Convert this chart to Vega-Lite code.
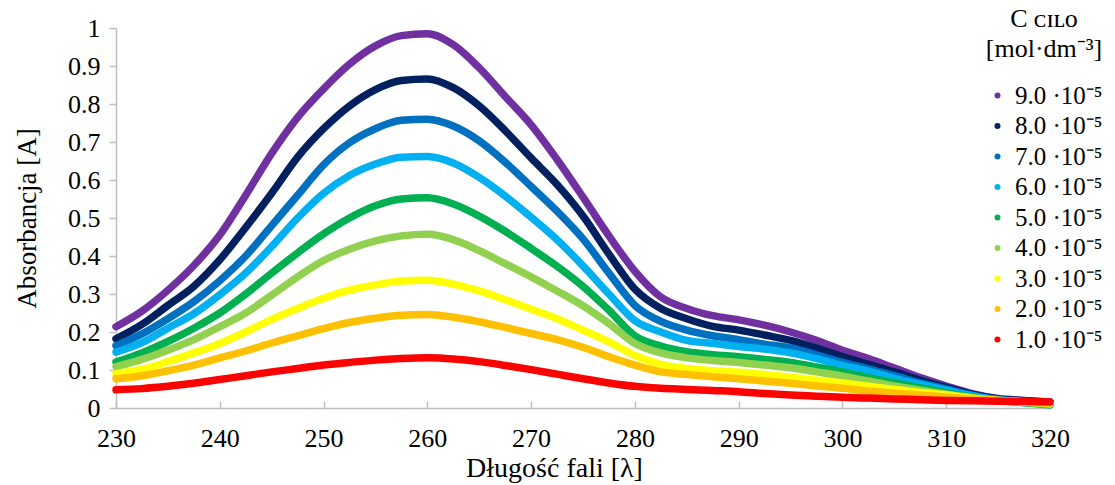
{
  "$schema": "https://vega.github.io/schema/vega-lite/v6.json",
  "width": 934,
  "height": 380,
  "autosize": {"type": "none"},
  "padding": {"left": 116, "top": 28, "right": 65, "bottom": 77},
  "background": "white",
  "config": {
    "view": {"stroke": null},
    "font": "Liberation Serif",
    "axis": {"labelFont": "Liberation Serif", "titleFont": "Liberation Serif"}
  },
  "data": {"values": [
    {"w":230,"c":"9.0 ·10⁻⁵","a":0.214},{"w":232.5,"c":"9.0 ·10⁻⁵","a":0.255},{"w":235,"c":"9.0 ·10⁻⁵","a":0.31},{"w":237.5,"c":"9.0 ·10⁻⁵","a":0.375},{"w":240,"c":"9.0 ·10⁻⁵","a":0.455},{"w":242.5,"c":"9.0 ·10⁻⁵","a":0.56},{"w":245,"c":"9.0 ·10⁻⁵","a":0.67},{"w":247.5,"c":"9.0 ·10⁻⁵","a":0.765},{"w":250,"c":"9.0 ·10⁻⁵","a":0.84},{"w":252.5,"c":"9.0 ·10⁻⁵","a":0.905},{"w":255,"c":"9.0 ·10⁻⁵","a":0.953},{"w":257.5,"c":"9.0 ·10⁻⁵","a":0.98},{"w":260,"c":"9.0 ·10⁻⁵","a":0.985},{"w":262.5,"c":"9.0 ·10⁻⁵","a":0.956},{"w":265,"c":"9.0 ·10⁻⁵","a":0.895},{"w":267.5,"c":"9.0 ·10⁻⁵","a":0.82},{"w":270,"c":"9.0 ·10⁻⁵","a":0.745},{"w":272.5,"c":"9.0 ·10⁻⁵","a":0.654},{"w":275,"c":"9.0 ·10⁻⁵","a":0.555},{"w":277.5,"c":"9.0 ·10⁻⁵","a":0.453},{"w":280,"c":"9.0 ·10⁻⁵","a":0.36},{"w":282.5,"c":"9.0 ·10⁻⁵","a":0.292},{"w":285,"c":"9.0 ·10⁻⁵","a":0.262},{"w":287.5,"c":"9.0 ·10⁻⁵","a":0.243},{"w":290,"c":"9.0 ·10⁻⁵","a":0.232},{"w":292.5,"c":"9.0 ·10⁻⁵","a":0.218},{"w":295,"c":"9.0 ·10⁻⁵","a":0.2},{"w":297.5,"c":"9.0 ·10⁻⁵","a":0.178},{"w":300,"c":"9.0 ·10⁻⁵","a":0.152},{"w":302.5,"c":"9.0 ·10⁻⁵","a":0.13},{"w":305,"c":"9.0 ·10⁻⁵","a":0.105},{"w":307.5,"c":"9.0 ·10⁻⁵","a":0.08},{"w":310,"c":"9.0 ·10⁻⁵","a":0.058},{"w":312.5,"c":"9.0 ·10⁻⁵","a":0.038},{"w":315,"c":"9.0 ·10⁻⁵","a":0.025},{"w":317.5,"c":"9.0 ·10⁻⁵","a":0.02},{"w":320,"c":"9.0 ·10⁻⁵","a":0.016},
    {"w":230,"c":"8.0 ·10⁻⁵","a":0.182},{"w":232.5,"c":"8.0 ·10⁻⁵","a":0.22},{"w":235,"c":"8.0 ·10⁻⁵","a":0.27},{"w":237.5,"c":"8.0 ·10⁻⁵","a":0.32},{"w":240,"c":"8.0 ·10⁻⁵","a":0.39},{"w":242.5,"c":"8.0 ·10⁻⁵","a":0.475},{"w":245,"c":"8.0 ·10⁻⁵","a":0.565},{"w":247.5,"c":"8.0 ·10⁻⁵","a":0.66},{"w":250,"c":"8.0 ·10⁻⁵","a":0.735},{"w":252.5,"c":"8.0 ·10⁻⁵","a":0.795},{"w":255,"c":"8.0 ·10⁻⁵","a":0.838},{"w":257.5,"c":"8.0 ·10⁻⁵","a":0.862},{"w":260,"c":"8.0 ·10⁻⁵","a":0.866},{"w":262.5,"c":"8.0 ·10⁻⁵","a":0.843},{"w":265,"c":"8.0 ·10⁻⁵","a":0.795},{"w":267.5,"c":"8.0 ·10⁻⁵","a":0.73},{"w":270,"c":"8.0 ·10⁻⁵","a":0.658},{"w":272.5,"c":"8.0 ·10⁻⁵","a":0.588},{"w":275,"c":"8.0 ·10⁻⁵","a":0.505},{"w":277.5,"c":"8.0 ·10⁻⁵","a":0.405},{"w":280,"c":"8.0 ·10⁻⁵","a":0.313},{"w":282.5,"c":"8.0 ·10⁻⁵","a":0.262},{"w":285,"c":"8.0 ·10⁻⁵","a":0.235},{"w":287.5,"c":"8.0 ·10⁻⁵","a":0.215},{"w":290,"c":"8.0 ·10⁻⁵","a":0.205},{"w":292.5,"c":"8.0 ·10⁻⁵","a":0.192},{"w":295,"c":"8.0 ·10⁻⁵","a":0.178},{"w":297.5,"c":"8.0 ·10⁻⁵","a":0.158},{"w":300,"c":"8.0 ·10⁻⁵","a":0.135},{"w":302.5,"c":"8.0 ·10⁻⁵","a":0.115},{"w":305,"c":"8.0 ·10⁻⁵","a":0.095},{"w":307.5,"c":"8.0 ·10⁻⁵","a":0.073},{"w":310,"c":"8.0 ·10⁻⁵","a":0.054},{"w":312.5,"c":"8.0 ·10⁻⁵","a":0.036},{"w":315,"c":"8.0 ·10⁻⁵","a":0.024},{"w":317.5,"c":"8.0 ·10⁻⁵","a":0.019},{"w":320,"c":"8.0 ·10⁻⁵","a":0.015},
    {"w":230,"c":"7.0 ·10⁻⁵","a":0.164},{"w":232.5,"c":"7.0 ·10⁻⁵","a":0.195},{"w":235,"c":"7.0 ·10⁻⁵","a":0.235},{"w":237.5,"c":"7.0 ·10⁻⁵","a":0.28},{"w":240,"c":"7.0 ·10⁻⁵","a":0.335},{"w":242.5,"c":"7.0 ·10⁻⁵","a":0.4},{"w":245,"c":"7.0 ·10⁻⁵","a":0.48},{"w":247.5,"c":"7.0 ·10⁻⁵","a":0.56},{"w":250,"c":"7.0 ·10⁻⁵","a":0.64},{"w":252.5,"c":"7.0 ·10⁻⁵","a":0.698},{"w":255,"c":"7.0 ·10⁻⁵","a":0.735},{"w":257.5,"c":"7.0 ·10⁻⁵","a":0.757},{"w":260,"c":"7.0 ·10⁻⁵","a":0.76},{"w":262.5,"c":"7.0 ·10⁻⁵","a":0.742},{"w":265,"c":"7.0 ·10⁻⁵","a":0.703},{"w":267.5,"c":"7.0 ·10⁻⁵","a":0.647},{"w":270,"c":"7.0 ·10⁻⁵","a":0.583},{"w":272.5,"c":"7.0 ·10⁻⁵","a":0.518},{"w":275,"c":"7.0 ·10⁻⁵","a":0.445},{"w":277.5,"c":"7.0 ·10⁻⁵","a":0.355},{"w":280,"c":"7.0 ·10⁻⁵","a":0.27},{"w":282.5,"c":"7.0 ·10⁻⁵","a":0.228},{"w":285,"c":"7.0 ·10⁻⁵","a":0.205},{"w":287.5,"c":"7.0 ·10⁻⁵","a":0.19},{"w":290,"c":"7.0 ·10⁻⁵","a":0.18},{"w":292.5,"c":"7.0 ·10⁻⁵","a":0.168},{"w":295,"c":"7.0 ·10⁻⁵","a":0.158},{"w":297.5,"c":"7.0 ·10⁻⁵","a":0.14},{"w":300,"c":"7.0 ·10⁻⁵","a":0.12},{"w":302.5,"c":"7.0 ·10⁻⁵","a":0.103},{"w":305,"c":"7.0 ·10⁻⁵","a":0.085},{"w":307.5,"c":"7.0 ·10⁻⁵","a":0.066},{"w":310,"c":"7.0 ·10⁻⁵","a":0.05},{"w":312.5,"c":"7.0 ·10⁻⁵","a":0.034},{"w":315,"c":"7.0 ·10⁻⁵","a":0.022},{"w":317.5,"c":"7.0 ·10⁻⁵","a":0.016},{"w":320,"c":"7.0 ·10⁻⁵","a":0.01},
    {"w":230,"c":"6.0 ·10⁻⁵","a":0.147},{"w":232.5,"c":"6.0 ·10⁻⁵","a":0.172},{"w":235,"c":"6.0 ·10⁻⁵","a":0.21},{"w":237.5,"c":"6.0 ·10⁻⁵","a":0.248},{"w":240,"c":"6.0 ·10⁻⁵","a":0.298},{"w":242.5,"c":"6.0 ·10⁻⁵","a":0.355},{"w":245,"c":"6.0 ·10⁻⁵","a":0.425},{"w":247.5,"c":"6.0 ·10⁻⁵","a":0.5},{"w":250,"c":"6.0 ·10⁻⁵","a":0.565},{"w":252.5,"c":"6.0 ·10⁻⁵","a":0.612},{"w":255,"c":"6.0 ·10⁻⁵","a":0.642},{"w":257.5,"c":"6.0 ·10⁻⁵","a":0.66},{"w":260,"c":"6.0 ·10⁻⁵","a":0.662},{"w":262.5,"c":"6.0 ·10⁻⁵","a":0.645},{"w":265,"c":"6.0 ·10⁻⁵","a":0.607},{"w":267.5,"c":"6.0 ·10⁻⁵","a":0.558},{"w":270,"c":"6.0 ·10⁻⁵","a":0.502},{"w":272.5,"c":"6.0 ·10⁻⁵","a":0.443},{"w":275,"c":"6.0 ·10⁻⁵","a":0.374},{"w":277.5,"c":"6.0 ·10⁻⁵","a":0.3},{"w":280,"c":"6.0 ·10⁻⁵","a":0.23},{"w":282.5,"c":"6.0 ·10⁻⁵","a":0.2},{"w":285,"c":"6.0 ·10⁻⁵","a":0.178},{"w":287.5,"c":"6.0 ·10⁻⁵","a":0.17},{"w":290,"c":"6.0 ·10⁻⁵","a":0.162},{"w":292.5,"c":"6.0 ·10⁻⁵","a":0.155},{"w":295,"c":"6.0 ·10⁻⁵","a":0.145},{"w":297.5,"c":"6.0 ·10⁻⁵","a":0.13},{"w":300,"c":"6.0 ·10⁻⁵","a":0.112},{"w":302.5,"c":"6.0 ·10⁻⁵","a":0.097},{"w":305,"c":"6.0 ·10⁻⁵","a":0.078},{"w":307.5,"c":"6.0 ·10⁻⁵","a":0.062},{"w":310,"c":"6.0 ·10⁻⁵","a":0.047},{"w":312.5,"c":"6.0 ·10⁻⁵","a":0.032},{"w":315,"c":"6.0 ·10⁻⁵","a":0.022},{"w":317.5,"c":"6.0 ·10⁻⁵","a":0.016},{"w":320,"c":"6.0 ·10⁻⁵","a":0.012},
    {"w":230,"c":"5.0 ·10⁻⁵","a":0.121},{"w":232.5,"c":"5.0 ·10⁻⁵","a":0.145},{"w":235,"c":"5.0 ·10⁻⁵","a":0.175},{"w":237.5,"c":"5.0 ·10⁻⁵","a":0.21},{"w":240,"c":"5.0 ·10⁻⁵","a":0.25},{"w":242.5,"c":"5.0 ·10⁻⁵","a":0.3},{"w":245,"c":"5.0 ·10⁻⁵","a":0.355},{"w":247.5,"c":"5.0 ·10⁻⁵","a":0.408},{"w":250,"c":"5.0 ·10⁻⁵","a":0.458},{"w":252.5,"c":"5.0 ·10⁻⁵","a":0.5},{"w":255,"c":"5.0 ·10⁻⁵","a":0.532},{"w":257.5,"c":"5.0 ·10⁻⁵","a":0.55},{"w":260,"c":"5.0 ·10⁻⁵","a":0.553},{"w":262.5,"c":"5.0 ·10⁻⁵","a":0.537},{"w":265,"c":"5.0 ·10⁻⁵","a":0.505},{"w":267.5,"c":"5.0 ·10⁻⁵","a":0.465},{"w":270,"c":"5.0 ·10⁻⁵","a":0.42},{"w":272.5,"c":"5.0 ·10⁻⁵","a":0.373},{"w":275,"c":"5.0 ·10⁻⁵","a":0.32},{"w":277.5,"c":"5.0 ·10⁻⁵","a":0.257},{"w":280,"c":"5.0 ·10⁻⁵","a":0.19},{"w":282.5,"c":"5.0 ·10⁻⁵","a":0.163},{"w":285,"c":"5.0 ·10⁻⁵","a":0.148},{"w":287.5,"c":"5.0 ·10⁻⁵","a":0.14},{"w":290,"c":"5.0 ·10⁻⁵","a":0.135},{"w":292.5,"c":"5.0 ·10⁻⁵","a":0.128},{"w":295,"c":"5.0 ·10⁻⁵","a":0.12},{"w":297.5,"c":"5.0 ·10⁻⁵","a":0.108},{"w":300,"c":"5.0 ·10⁻⁵","a":0.095},{"w":302.5,"c":"5.0 ·10⁻⁵","a":0.08},{"w":305,"c":"5.0 ·10⁻⁵","a":0.066},{"w":307.5,"c":"5.0 ·10⁻⁵","a":0.053},{"w":310,"c":"5.0 ·10⁻⁵","a":0.04},{"w":312.5,"c":"5.0 ·10⁻⁵","a":0.028},{"w":315,"c":"5.0 ·10⁻⁵","a":0.02},{"w":317.5,"c":"5.0 ·10⁻⁵","a":0.014},{"w":320,"c":"5.0 ·10⁻⁵","a":0.008},
    {"w":230,"c":"4.0 ·10⁻⁵","a":0.109},{"w":232.5,"c":"4.0 ·10⁻⁵","a":0.128},{"w":235,"c":"4.0 ·10⁻⁵","a":0.152},{"w":237.5,"c":"4.0 ·10⁻⁵","a":0.18},{"w":240,"c":"4.0 ·10⁻⁵","a":0.214},{"w":242.5,"c":"4.0 ·10⁻⁵","a":0.25},{"w":245,"c":"4.0 ·10⁻⁵","a":0.297},{"w":247.5,"c":"4.0 ·10⁻⁵","a":0.345},{"w":250,"c":"4.0 ·10⁻⁵","a":0.388},{"w":252.5,"c":"4.0 ·10⁻⁵","a":0.418},{"w":255,"c":"4.0 ·10⁻⁵","a":0.44},{"w":257.5,"c":"4.0 ·10⁻⁵","a":0.453},{"w":260,"c":"4.0 ·10⁻⁵","a":0.457},{"w":262.5,"c":"4.0 ·10⁻⁵","a":0.443},{"w":265,"c":"4.0 ·10⁻⁵","a":0.414},{"w":267.5,"c":"4.0 ·10⁻⁵","a":0.38},{"w":270,"c":"4.0 ·10⁻⁵","a":0.345},{"w":272.5,"c":"4.0 ·10⁻⁵","a":0.308},{"w":275,"c":"4.0 ·10⁻⁵","a":0.269},{"w":277.5,"c":"4.0 ·10⁻⁵","a":0.222},{"w":280,"c":"4.0 ·10⁻⁵","a":0.17},{"w":282.5,"c":"4.0 ·10⁻⁵","a":0.145},{"w":285,"c":"4.0 ·10⁻⁵","a":0.132},{"w":287.5,"c":"4.0 ·10⁻⁵","a":0.125},{"w":290,"c":"4.0 ·10⁻⁵","a":0.12},{"w":292.5,"c":"4.0 ·10⁻⁵","a":0.113},{"w":295,"c":"4.0 ·10⁻⁵","a":0.106},{"w":297.5,"c":"4.0 ·10⁻⁵","a":0.095},{"w":300,"c":"4.0 ·10⁻⁵","a":0.084},{"w":302.5,"c":"4.0 ·10⁻⁵","a":0.071},{"w":305,"c":"4.0 ·10⁻⁵","a":0.058},{"w":307.5,"c":"4.0 ·10⁻⁵","a":0.047},{"w":310,"c":"4.0 ·10⁻⁵","a":0.036},{"w":312.5,"c":"4.0 ·10⁻⁵","a":0.027},{"w":315,"c":"4.0 ·10⁻⁵","a":0.02},{"w":317.5,"c":"4.0 ·10⁻⁵","a":0.015},{"w":320,"c":"4.0 ·10⁻⁵","a":0.01},
    {"w":230,"c":"3.0 ·10⁻⁵","a":0.09},{"w":232.5,"c":"3.0 ·10⁻⁵","a":0.102},{"w":235,"c":"3.0 ·10⁻⁵","a":0.122},{"w":237.5,"c":"3.0 ·10⁻⁵","a":0.145},{"w":240,"c":"3.0 ·10⁻⁵","a":0.17},{"w":242.5,"c":"3.0 ·10⁻⁵","a":0.2},{"w":245,"c":"3.0 ·10⁻⁵","a":0.233},{"w":247.5,"c":"3.0 ·10⁻⁵","a":0.262},{"w":250,"c":"3.0 ·10⁻⁵","a":0.289},{"w":252.5,"c":"3.0 ·10⁻⁵","a":0.31},{"w":255,"c":"3.0 ·10⁻⁵","a":0.324},{"w":257.5,"c":"3.0 ·10⁻⁵","a":0.334},{"w":260,"c":"3.0 ·10⁻⁵","a":0.336},{"w":262.5,"c":"3.0 ·10⁻⁵","a":0.326},{"w":265,"c":"3.0 ·10⁻⁵","a":0.308},{"w":267.5,"c":"3.0 ·10⁻⁵","a":0.285},{"w":270,"c":"3.0 ·10⁻⁵","a":0.26},{"w":272.5,"c":"3.0 ·10⁻⁵","a":0.235},{"w":275,"c":"3.0 ·10⁻⁵","a":0.205},{"w":277.5,"c":"3.0 ·10⁻⁵","a":0.174},{"w":280,"c":"3.0 ·10⁻⁵","a":0.138},{"w":282.5,"c":"3.0 ·10⁻⁵","a":0.115},{"w":285,"c":"3.0 ·10⁻⁵","a":0.104},{"w":287.5,"c":"3.0 ·10⁻⁵","a":0.098},{"w":290,"c":"3.0 ·10⁻⁵","a":0.094},{"w":292.5,"c":"3.0 ·10⁻⁵","a":0.088},{"w":295,"c":"3.0 ·10⁻⁵","a":0.081},{"w":297.5,"c":"3.0 ·10⁻⁵","a":0.073},{"w":300,"c":"3.0 ·10⁻⁵","a":0.066},{"w":302.5,"c":"3.0 ·10⁻⁵","a":0.057},{"w":305,"c":"3.0 ·10⁻⁵","a":0.049},{"w":307.5,"c":"3.0 ·10⁻⁵","a":0.041},{"w":310,"c":"3.0 ·10⁻⁵","a":0.034},{"w":312.5,"c":"3.0 ·10⁻⁵","a":0.026},{"w":315,"c":"3.0 ·10⁻⁵","a":0.02},{"w":317.5,"c":"3.0 ·10⁻⁵","a":0.016},{"w":320,"c":"3.0 ·10⁻⁵","a":0.013},
    {"w":230,"c":"2.0 ·10⁻⁵","a":0.077},{"w":232.5,"c":"2.0 ·10⁻⁵","a":0.085},{"w":235,"c":"2.0 ·10⁻⁵","a":0.098},{"w":237.5,"c":"2.0 ·10⁻⁵","a":0.113},{"w":240,"c":"2.0 ·10⁻⁵","a":0.132},{"w":242.5,"c":"2.0 ·10⁻⁵","a":0.15},{"w":245,"c":"2.0 ·10⁻⁵","a":0.171},{"w":247.5,"c":"2.0 ·10⁻⁵","a":0.19},{"w":250,"c":"2.0 ·10⁻⁵","a":0.209},{"w":252.5,"c":"2.0 ·10⁻⁵","a":0.225},{"w":255,"c":"2.0 ·10⁻⁵","a":0.236},{"w":257.5,"c":"2.0 ·10⁻⁵","a":0.244},{"w":260,"c":"2.0 ·10⁻⁵","a":0.246},{"w":262.5,"c":"2.0 ·10⁻⁵","a":0.239},{"w":265,"c":"2.0 ·10⁻⁵","a":0.227},{"w":267.5,"c":"2.0 ·10⁻⁵","a":0.212},{"w":270,"c":"2.0 ·10⁻⁵","a":0.196},{"w":272.5,"c":"2.0 ·10⁻⁵","a":0.18},{"w":275,"c":"2.0 ·10⁻⁵","a":0.16},{"w":277.5,"c":"2.0 ·10⁻⁵","a":0.135},{"w":280,"c":"2.0 ·10⁻⁵","a":0.113},{"w":282.5,"c":"2.0 ·10⁻⁵","a":0.095},{"w":285,"c":"2.0 ·10⁻⁵","a":0.088},{"w":287.5,"c":"2.0 ·10⁻⁵","a":0.082},{"w":290,"c":"2.0 ·10⁻⁵","a":0.077},{"w":292.5,"c":"2.0 ·10⁻⁵","a":0.071},{"w":295,"c":"2.0 ·10⁻⁵","a":0.065},{"w":297.5,"c":"2.0 ·10⁻⁵","a":0.058},{"w":300,"c":"2.0 ·10⁻⁵","a":0.052},{"w":302.5,"c":"2.0 ·10⁻⁵","a":0.045},{"w":305,"c":"2.0 ·10⁻⁵","a":0.039},{"w":307.5,"c":"2.0 ·10⁻⁵","a":0.034},{"w":310,"c":"2.0 ·10⁻⁵","a":0.029},{"w":312.5,"c":"2.0 ·10⁻⁵","a":0.024},{"w":315,"c":"2.0 ·10⁻⁵","a":0.02},{"w":317.5,"c":"2.0 ·10⁻⁵","a":0.017},{"w":320,"c":"2.0 ·10⁻⁵","a":0.014},
    {"w":230,"c":"1.0 ·10⁻⁵","a":0.048},{"w":232.5,"c":"1.0 ·10⁻⁵","a":0.051},{"w":235,"c":"1.0 ·10⁻⁵","a":0.057},{"w":237.5,"c":"1.0 ·10⁻⁵","a":0.065},{"w":240,"c":"1.0 ·10⁻⁵","a":0.075},{"w":242.5,"c":"1.0 ·10⁻⁵","a":0.085},{"w":245,"c":"1.0 ·10⁻⁵","a":0.095},{"w":247.5,"c":"1.0 ·10⁻⁵","a":0.104},{"w":250,"c":"1.0 ·10⁻⁵","a":0.113},{"w":252.5,"c":"1.0 ·10⁻⁵","a":0.12},{"w":255,"c":"1.0 ·10⁻⁵","a":0.126},{"w":257.5,"c":"1.0 ·10⁻⁵","a":0.13},{"w":260,"c":"1.0 ·10⁻⁵","a":0.132},{"w":262.5,"c":"1.0 ·10⁻⁵","a":0.129},{"w":265,"c":"1.0 ·10⁻⁵","a":0.122},{"w":267.5,"c":"1.0 ·10⁻⁵","a":0.112},{"w":270,"c":"1.0 ·10⁻⁵","a":0.101},{"w":272.5,"c":"1.0 ·10⁻⁵","a":0.089},{"w":275,"c":"1.0 ·10⁻⁵","a":0.077},{"w":277.5,"c":"1.0 ·10⁻⁵","a":0.066},{"w":280,"c":"1.0 ·10⁻⁵","a":0.057},{"w":282.5,"c":"1.0 ·10⁻⁵","a":0.052},{"w":285,"c":"1.0 ·10⁻⁵","a":0.049},{"w":287.5,"c":"1.0 ·10⁻⁵","a":0.046},{"w":290,"c":"1.0 ·10⁻⁵","a":0.043},{"w":292.5,"c":"1.0 ·10⁻⁵","a":0.038},{"w":295,"c":"1.0 ·10⁻⁵","a":0.034},{"w":297.5,"c":"1.0 ·10⁻⁵","a":0.031},{"w":300,"c":"1.0 ·10⁻⁵","a":0.028},{"w":302.5,"c":"1.0 ·10⁻⁵","a":0.026},{"w":305,"c":"1.0 ·10⁻⁵","a":0.024},{"w":307.5,"c":"1.0 ·10⁻⁵","a":0.022},{"w":310,"c":"1.0 ·10⁻⁵","a":0.02},{"w":312.5,"c":"1.0 ·10⁻⁵","a":0.019},{"w":315,"c":"1.0 ·10⁻⁵","a":0.018},{"w":317.5,"c":"1.0 ·10⁻⁵","a":0.017},{"w":320,"c":"1.0 ·10⁻⁵","a":0.016}
  ]},
  "mark": {"type": "line", "strokeWidth": 7.5, "interpolate": "monotone", "strokeCap": "round", "clip": false},
  "encoding": {
    "x": {
      "field": "w", "type": "quantitative",
      "scale": {"domain": [230, 320], "nice": false, "zero": false},
      "axis": {
        "title": "Długość fali [λ]",
        "values": [230, 240, 250, 260, 270, 280, 290, 300, 310, 320],
        "grid": false,
        "domainColor": "#BFBFBF", "domainWidth": 1.5,
        "tickColor": "#BFBFBF", "tickWidth": 1.5, "tickSize": -7,
        "labelFontSize": 26, "labelColor": "#000000",
        "labelPadding": 24, "labelFlush": false,
        "titleFontSize": 28, "titleFontWeight": "normal", "titleColor": "#000000",
        "titlePadding": 3, "titleX": 438
      }
    },
    "y": {
      "field": "a", "type": "quantitative",
      "scale": {"domain": [0, 1], "nice": false},
      "axis": {
        "title": "Absorbancja [A]",
        "values": [0, 0.1, 0.2, 0.3, 0.4, 0.5, 0.6, 0.7, 0.8, 0.9, 1],
        "format": "~g",
        "grid": false,
        "domainColor": "#BFBFBF", "domainWidth": 1.5,
        "tickColor": "#BFBFBF", "tickWidth": 1.5, "tickSize": 7,
        "labelFontSize": 26, "labelColor": "#000000",
        "labelPadding": 9, "labelFlush": false,
        "titleFontSize": 27, "titleFontWeight": "normal", "titleColor": "#000000",
        "titlePadding": 26
      }
    },
    "color": {
      "field": "c", "type": "nominal",
      "scale": {
        "domain": ["9.0 ·10⁻⁵", "8.0 ·10⁻⁵", "7.0 ·10⁻⁵", "6.0 ·10⁻⁵", "5.0 ·10⁻⁵", "4.0 ·10⁻⁵", "3.0 ·10⁻⁵", "2.0 ·10⁻⁵", "1.0 ·10⁻⁵"],
        "range": ["#7030A0", "#002060", "#0070C0", "#00B0F0", "#00B050", "#92D050", "#FFFF00", "#FFC000", "#FF0000"]
      },
      "legend": {
        "orient": "none", "legendX": 869, "legendY": -22,
        "title": ["C ᴄɪʟᴏ", "[mol·dm⁻³]"],
        "titleFont": "Liberation Serif", "titleFontSize": 26, "titleFontWeight": "normal", "titleColor": "#000000",
        "titleLineHeight": 30, "titleAnchor": "middle", "titleAlign": "center", "titlePadding": 21,
        "labelFont": "Liberation Serif", "labelFontSize": 25, "labelColor": "#000000",
        "symbolType": "circle", "symbolSize": 36, "symbolStrokeWidth": 0,
        "labelOffset": 5, "rowPadding": 4.5, "labelLimit": 250,
        "encode": {"symbols": {"update": {"fill": {"scale": "color", "field": "value"}, "opacity": {"value": 1}}}}
      }
    }
  }
}
